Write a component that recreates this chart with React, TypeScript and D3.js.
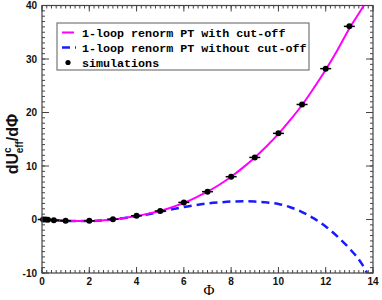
import React from 'react';
import * as d3 from 'd3';

// simulation points (Phi, dU/dPhi)
const simPhi = [0.05, 0.15, 0.25, 0.5, 1, 2, 3, 4, 5, 6, 7, 8, 9, 10, 11, 12, 13];
const simVal = [0, 0, -0.05, -0.15, -0.25, -0.25, 0.05, 0.7, 1.6, 3.2, 5.2, 8.0, 11.6, 16.1, 21.5, 28.2, 36.1];

// 1-loop renorm PT with cut-off (magenta)
const cutPhi = [0, 0.5, 1, 1.5, 2, 2.5, 3, 3.5, 4, 4.5, 5, 5.5, 6, 6.5, 7, 7.5, 8, 8.5, 9, 9.5, 10, 10.5, 11, 11.5, 12, 12.5, 13, 13.5, 13.75];
const cutVal = [0, -0.15, -0.25, -0.3, -0.3, -0.2, 0, 0.3, 0.65, 1.1, 1.6, 2.3, 3.1, 4.1, 5.2, 6.5, 8.0, 9.7, 11.6, 13.7, 16.0, 18.6, 21.4, 24.6, 28.0, 31.7, 35.7, 39.2, 41];

// 1-loop renorm PT without cut-off (blue dashed)
const noCutPhi = [0, 0.5, 1, 1.5, 2, 2.5, 3, 3.5, 4, 4.5, 5, 5.5, 6, 6.5, 7, 7.5, 8, 8.5, 9, 9.5, 10, 10.5, 11, 11.5, 12, 12.5, 13, 13.5, 13.75];
const noCutVal = [0, -0.15, -0.25, -0.3, -0.3, -0.2, 0, 0.3, 0.6, 1.0, 1.45, 1.9, 2.35, 2.7, 3.0, 3.2, 3.35, 3.4, 3.35, 3.2, 2.9, 2.3, 1.4, 0.2, -1.3, -3.2, -5.4, -8.1, -10];

const xTicks = [0, 2, 4, 6, 8, 10, 12, 14];
const yTicks = [-10, 0, 10, 20, 30, 40];

const legendLabels = [
  '1-loop renorm PT with cut-off',
  '1-loop renorm PT without cut-off',
  'simulations',
];

const W = 382;
const H = 300;
const left = 42;
const right = 373;
const top = 5.5;
const bottom = 273;

export default function App() {
  const x = d3.scaleLinear().domain([0, 14]).range([left, right]);
  const y = d3.scaleLinear().domain([-10, 40]).range([bottom, top]);

  const line = d3
    .line<[number, number]>()
    .x((d) => x(d[0]))
    .y((d) => y(d[1]))
    .curve(d3.curveMonotoneX);

  const cutData = cutPhi.map((p, i) => [p, cutVal[i]] as [number, number]);
  const noCutData = noCutPhi.map((p, i) => [p, noCutVal[i]] as [number, number]);

  const xMinor = d3.range(0, 14.001, 0.2);
  const yMinor = d3.range(-10, 40.001, 1);
  const frame = '#444';

  return (
    <svg
      width={W}
      height={H}
      style={{ position: 'absolute', left: 0, top: 0, background: '#fff' }}
      fontFamily="'Liberation Sans', Arial, sans-serif"
    >
      <defs>
        <clipPath id="plot">
          <rect x={left} y={top} width={right - left} height={bottom - top} />
        </clipPath>
      </defs>

      {/* minor + major ticks on all four sides */}
      <g stroke={frame} strokeWidth={1}>
        {xMinor.map((v, i) => (
          <g key={'xm' + i}>
            <line x1={x(v)} x2={x(v)} y1={bottom} y2={bottom - 3} />
            <line x1={x(v)} x2={x(v)} y1={top} y2={top + 3} />
          </g>
        ))}
        {yMinor.map((v, i) => (
          <g key={'ym' + i}>
            <line x1={left} x2={left + 3} y1={y(v)} y2={y(v)} />
            <line x1={right} x2={right - 3} y1={y(v)} y2={y(v)} />
          </g>
        ))}
        {xTicks.map((v) => (
          <g key={'xM' + v}>
            <line x1={x(v)} x2={x(v)} y1={bottom} y2={bottom - 6} />
            <line x1={x(v)} x2={x(v)} y1={top} y2={top + 6} />
          </g>
        ))}
        {yTicks.map((v) => (
          <g key={'yM' + v}>
            <line x1={left} x2={left + 7} y1={y(v)} y2={y(v)} />
            <line x1={right} x2={right - 7} y1={y(v)} y2={y(v)} />
          </g>
        ))}
      </g>

      <g clipPath="url(#plot)">
        <path d={line(noCutData) || ''} fill="none" stroke="#1a1aff" strokeWidth={2.5} strokeDasharray="8,5" />
        <path d={line(cutData) || ''} fill="none" stroke="#ff00ff" strokeWidth={2} />
      </g>

      {/* simulations */}
      <g>
        {simPhi.map((p, i) => (
          <g key={'s' + i}>
            <line x1={x(p) - 5.5} x2={x(p) + 5.5} y1={y(simVal[i])} y2={y(simVal[i])} stroke="#000" strokeWidth={1.5} />
            <circle cx={x(p)} cy={y(simVal[i])} r={3} fill="#000" />
          </g>
        ))}
      </g>

      <rect x={left} y={top} width={right - left} height={bottom - top} fill="none" stroke={frame} strokeWidth={1.2} />

      {/* tick labels */}
      <g fontSize={10} fontWeight="bold" fill="#111">
        {xTicks.map((v) => (
          <text key={'xl' + v} x={x(v)} y={bottom + 12} textAnchor="middle">
            {v}
          </text>
        ))}
        {yTicks.map((v) => (
          <text key={'yl' + v} x={left - 5} y={y(v) + 3.5} textAnchor="end">
            {v}
          </text>
        ))}
      </g>

      {/* axis titles */}
      <text x={209} y={295} textAnchor="middle" fontFamily="'Liberation Serif', serif" fontSize={15}>
        Φ
      </text>
      <text transform="translate(18,144) rotate(-90)" textAnchor="middle" fontSize={16} fontWeight="bold" fill="#111">
        dU
        <tspan dy={-7} fontSize={10}>c</tspan>
        <tspan dy={12} dx={-6} fontSize={10}>eff</tspan>
        <tspan dy={-5}>/dΦ</tspan>
      </text>

      {/* legend */}
      <g fontFamily="'Liberation Mono', monospace" fontSize={11.7} fontWeight="bold">
        <rect x={57} y={23} width={252} height={47} fill="#fff" stroke="#777" strokeWidth={1.2} />
        {legendLabels.map((lab, i) => {
          const ly = 32.5 + i * 15;
          return (
            <g key={lab}>
              {i === 0 && <line x1={62} x2={74} y1={ly} y2={ly} stroke="#ff00ff" strokeWidth={2} />}
              {i === 1 && <line x1={62} x2={76} y1={ly} y2={ly} stroke="#1a1aff" strokeWidth={2.5} strokeDasharray="8,5" />}
              {i === 2 && <circle cx={68} cy={ly} r={2.6} fill="#000" />}
              <text x={82} y={ly + 4}>
                {lab}
              </text>
            </g>
          );
        })}
      </g>
    </svg>
  );
}
